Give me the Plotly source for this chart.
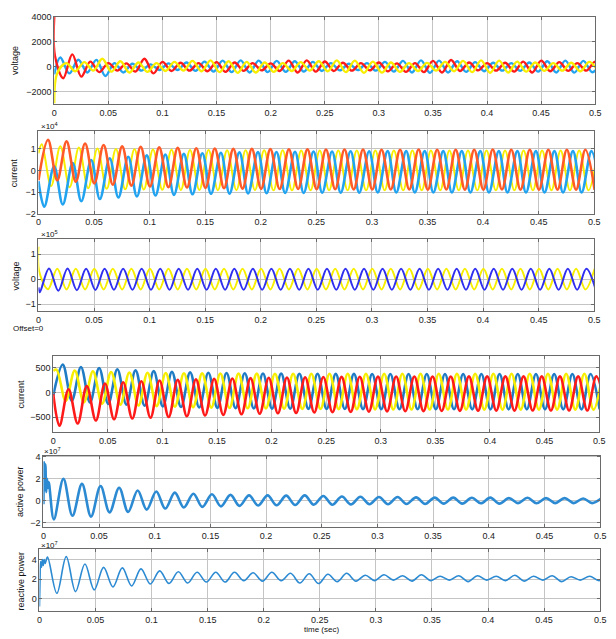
import plotly.graph_objects as go

W, H = 616, 639
P = 0.01667  # period (60 Hz)

x_ticks = [0, 0.05, 0.1, 0.15, 0.2, 0.25, 0.3, 0.35, 0.4, 0.45, 0.5]
x_tick_labels = ["0", "0.05", "0.1", "0.15", "0.2", "0.25", "0.3", "0.35", "0.4", "0.45", "0.5"]

# ---------------- Panel 1 : voltage ----------------
v1_red_pre_t = [0.0, 0.0006]
v1_red_pre_v = [4000, 900]
v1_red_tp0, v1_red_tt0 = 0.0167, 0.0083
v1_red_peaks = [1000, 420, 300, 280, 650, 400, 330, 300, 380, 350, 300, 280, 500, 520, 430,
                330, 300, 350, 280, 300, 480, 550, 350, 300, 330, 420, 500, 380, 300, 420]
v1_red_troughs = [-910, -780, -420, -300, -380, -520, -330, -300, -350, -400, -320, -280, -330, -450, -380,
                  -330, -300, -280, -360, -400, -420, -450, -330, -280, -300, -380, -450, -350, -320, -300, -300]

v1_blue_pre_t = [0.0]
v1_blue_pre_v = [-600]
v1_blue_tp0, v1_blue_tt0 = 0.0056, 0.0139
v1_blue_peaks = [750, 570, 560, 300, 250, 200, 280, 350, 420, 500, 520, 500, 480, 450, 400,
                 300, 250, 300, 400, 480, 520, 500, 450, 380, 330, 300, 350, 450, 500, 480, 420]
v1_blue_troughs = [-520, -450, -730, -450, -300, -250, -250, -320, -380, -420, -450, -420, -400, -380, -330,
                   -280, -260, -300, -380, -450, -480, -450, -400, -350, -300, -320, -380, -450, -460, -430]

v1_yel_pre_t = [0.0]
v1_yel_pre_v = [-2900]
v1_yel_tp0, v1_yel_tt0 = 0.0111, 0.0028
v1_yel_peaks = [300, 380, 650, 450, 350, 300, 400, 480, 520, 450, 400, 350, 300, 380, 450,
                520, 500, 420, 350, 300, 320, 400, 480, 520, 500, 420, 350, 300, 330, 400]
v1_yel_troughs = [-500, -350, -300, -380, -450, -400, -330, -300, -350, -420, -480, -450, -400, -330, -300,
                  -350, -420, -480, -460, -400, -330, -300, -350, -420, -470, -450, -380, -320, -300, -350, -400]

# ---------------- Panel 2 : current (x1e4) ----------------
c2_or_pre_t = [0.0]
c2_or_pre_v = [-0.45]
c2_or_tp0, c2_or_tt0 = 0.0086, 0.0169
c2_or_peaks = [1.42, 1.35, 1.25, 1.18, 1.12, 1.1, 1.07, 1.05, 1.03, 1.02, 1.0, 1.0, 0.99, 0.98, 0.98,
               0.97, 0.97, 0.97, 0.96, 0.96, 0.97, 0.96, 0.96, 0.96, 0.97, 0.96, 0.96, 0.96, 0.96, 0.96]
c2_or_troughs = [-0.45, -0.52, -0.6, -0.66, -0.7, -0.74, -0.77, -0.79, -0.81, -0.82, -0.84, -0.85, -0.86, -0.86, -0.87,
                 -0.87, -0.88, -0.88, -0.88, -0.88, -0.89, -0.88, -0.89, -0.89, -0.88, -0.89, -0.89, -0.89, -0.89, -0.89]

c2_bl_pre_t = [0.0]
c2_bl_pre_v = [-0.5]
c2_bl_tp0, c2_bl_tt0 = 0.0141, 0.0052
c2_bl_peaks = [0.2, 0.35, 0.48, 0.57, 0.64, 0.7, 0.74, 0.77, 0.8, 0.82, 0.84, 0.85, 0.86, 0.87, 0.88,
               0.88, 0.89, 0.89, 0.9, 0.9, 0.9, 0.9, 0.9, 0.9, 0.9, 0.9, 0.9, 0.9, 0.9, 0.9]
c2_bl_troughs = [-1.68, -1.57, -1.42, -1.32, -1.25, -1.2, -1.16, -1.13, -1.1, -1.08, -1.07, -1.06, -1.05, -1.04, -1.04,
                 -1.03, -1.03, -1.03, -1.02, -1.02, -1.02, -1.02, -1.02, -1.02, -1.02, -1.02, -1.02, -1.02, -1.02, -1.02, -1.02]

c2_ye_pre_t = [0.0]
c2_ye_pre_v = [0.8]
c2_ye_tp0, c2_ye_tt0 = 0.0030, 0.0114
c2_ye_peaks = [1.22, 1.12, 1.06, 1.02, 1.0, 0.98, 0.97, 0.96, 0.95, 0.95, 0.94, 0.94, 0.94, 0.94, 0.93,
               0.93, 0.93, 0.93, 0.93, 0.93, 0.93, 0.93, 0.93, 0.93, 0.93, 0.93, 0.93, 0.93, 0.93, 0.93, 0.93]
c2_ye_troughs = [-0.72, -0.78, -0.82, -0.85, -0.87, -0.88, -0.89, -0.9, -0.9, -0.91, -0.91, -0.91, -0.92, -0.92, -0.92,
                 -0.92, -0.92, -0.92, -0.92, -0.92, -0.92, -0.92, -0.92, -0.92, -0.92, -0.92, -0.92, -0.92, -0.92, -0.92]

# ---------------- Panel 3 : voltage (x1e5) ----------------
v3_bl_pre_t = [0.0]
v3_bl_pre_v = [-0.33]
v3_bl_tp0, v3_bl_tt0 = 0.0095, 0.0012
v3_bl_peaks = [0.43, 0.43, 0.42, 0.42, 0.42, 0.42, 0.42, 0.42, 0.42, 0.42, 0.42, 0.42, 0.42, 0.42, 0.42,
               0.42, 0.42, 0.42, 0.42, 0.42, 0.42, 0.42, 0.42, 0.42, 0.42, 0.42, 0.42, 0.42, 0.42, 0.42]
v3_bl_troughs = [-0.52, -0.46, -0.44, -0.43, -0.42, -0.42, -0.42, -0.42, -0.42, -0.42, -0.42, -0.42, -0.42, -0.42, -0.42,
                 -0.42, -0.42, -0.42, -0.42, -0.42, -0.42, -0.42, -0.42, -0.42, -0.42, -0.42, -0.42, -0.42, -0.42, -0.42, -0.42]

v3_ye_pre_t = [0.0, 0.0007]
v3_ye_pre_v = [1.3, 0.3]
v3_ye_tp0, v3_ye_tt0 = 0.0169, 0.0086
v3_ye_peaks = [0.42, 0.42, 0.42, 0.42, 0.42, 0.42, 0.42, 0.42, 0.42, 0.42, 0.42, 0.42, 0.42, 0.42, 0.42,
               0.42, 0.42, 0.42, 0.42, 0.42, 0.42, 0.42, 0.42, 0.42, 0.42, 0.42, 0.42, 0.42, 0.42, 0.42]
v3_ye_troughs = [-0.4, -0.41, -0.41, -0.41, -0.41, -0.41, -0.41, -0.41, -0.41, -0.41, -0.41, -0.41, -0.41, -0.41, -0.41,
                 -0.41, -0.41, -0.41, -0.41, -0.41, -0.41, -0.41, -0.41, -0.41, -0.41, -0.41, -0.41, -0.41, -0.41, -0.41]

# ---------------- Panel 4 : current ----------------
c4_bl_pre_t = [0.0]
c4_bl_pre_v = [-60]
c4_bl_tp0, c4_bl_tt0 = 0.0087, 0.0170
c4_bl_peaks = [560, 513, 493, 468, 445, 428, 414, 404, 396, 390, 385, 381, 378, 376, 375,
               374, 373, 372, 372, 371, 371, 371, 370, 370, 370, 370, 370, 370, 370, 370]
c4_bl_troughs = [-165, -200, -230, -245, -265, -280, -292, -302, -310, -316, -321, -325, -328, -330, -332,
                 -334, -335, -336, -337, -338, -339, -339, -340, -340, -340, -340, -340, -340, -340, -340]

c4_rd_pre_t = [0.0]
c4_rd_pre_v = [-30]
c4_rd_tp0, c4_rd_tt0 = 0.0140, 0.0057
c4_rd_peaks = [65, 130, 180, 205, 225, 240, 252, 262, 272, 280, 288, 295, 300, 305, 310,
               313, 316, 318, 320, 321, 322, 322, 323, 323, 323, 323, 323, 323, 323, 323]
c4_rd_troughs = [-670, -625, -565, -540, -525, -510, -495, -480, -465, -452, -440, -430, -420, -412, -405,
                 -398, -392, -387, -382, -378, -375, -372, -370, -368, -366, -365, -364, -363, -362, -362, -362]

c4_ye_pre_t = [0.0]
c4_ye_pre_v = [430]
c4_ye_tp0, c4_ye_tt0 = 0.0030, 0.0114
c4_ye_peaks = [460, 440, 425, 412, 402, 395, 390, 386, 383, 381, 379, 378, 377, 376, 375,
               375, 375, 375, 375, 375, 375, 375, 375, 375, 375, 375, 375, 375, 375, 375, 375]
c4_ye_troughs = [-170, -200, -225, -245, -262, -275, -287, -297, -305, -312, -318, -323, -327, -331, -334,
                 -336, -338, -340, -341, -342, -343, -344, -344, -345, -345, -345, -345, -345, -345, -345]

# ---------------- Panel 5 : active power (x1e7) ----------------
p5_pre_t = [0.0, 0.0006, 0.0012, 0.0018, 0.0025, 0.0032, 0.0040, 0.0048]
p5_pre_v = [-0.3, 3.5, 1.0, 3.3, 0.8, 2.0, 1.2, 1.7]
p5_tp0, p5_tt0 = 0.0180, 0.0094
p5_peaks = [2.0, 1.55, 1.35, 1.2, 0.95, 0.85, 0.75, 0.65, 0.6, 0.55, 0.5, 0.5, 0.48, 0.5, 0.45,
            0.4, 0.38, 0.35, 0.35, 0.32, 0.3, 0.3, 0.28, 0.3, 0.25, 0.28, 0.25, 0.25, 0.22, 0.25]
p5_troughs = [-1.68, -1.35, -1.43, -1.05, -1.0, -0.8, -0.7, -0.6, -0.55, -0.5, -0.45, -0.42, -0.4, -0.38, -0.35,
              -0.35, -0.32, -0.3, -0.3, -0.28, -0.28, -0.25, -0.25, -0.22, -0.25, -0.2, -0.22, -0.2, -0.2, -0.2]

# ---------------- Panel 6 : reactive power (x1e7) ----------------
q6_pre_t = [0.0, 0.0005, 0.0010, 0.0018, 0.0026, 0.0034, 0.0042, 0.0050]
q6_pre_v = [-0.8, 2.0, 3.8, 3.2, 4.0, 3.4, 4.0, 3.6]
q6_tp0, q6_tt0 = 0.0072, 0.0155
q6_peaks = [4.25, 4.3, 3.55, 3.2, 3.15, 3.05, 2.85, 2.75, 2.7, 2.7, 2.7, 2.65, 2.7, 2.6, 2.55,
            2.5, 2.6, 2.4, 2.45, 2.35, 2.45, 2.3, 2.35, 2.35, 2.3, 2.4, 2.3, 2.35, 2.25, 2.3, 2.3]
q6_troughs = [0.55, 0.72, 0.9, 1.2, 1.3, 1.5, 1.55, 1.6, 1.7, 1.7, 1.85, 1.8, 1.85, 1.6, 1.55,
              1.75, 1.8, 1.85, 1.9, 1.8, 1.85, 1.9, 1.75, 1.9, 1.85, 1.8, 1.9, 1.75, 1.9, 1.85]


def wave(pre_t, pre_v, tp0, peaks, tt0, troughs):
    pts = list(zip(pre_t, pre_v))
    pts += [(tp0 + k * P, v) for k, v in enumerate(peaks)]
    pts += [(tt0 + k * P, v) for k, v in enumerate(troughs)]
    pts.sort()
    return [p[0] for p in pts], [p[1] for p in pts]


fig = go.Figure()


def add(idx, data, color, width):
    xs, ys = wave(*data)
    sfx = "" if idx == 1 else str(idx)
    fig.add_trace(go.Scatter(x=xs, y=ys, mode="lines", xaxis="x" + sfx, yaxis="y" + sfx,
                             line=dict(color=color, width=width, shape="spline", smoothing=1.0),
                             hoverinfo="skip", showlegend=False))


RED = "#ff1a1a"
LBLUE = "#22a3f0"
YEL = "#f7ee00"
ORANGE = "#ff5a28"
DBLUE = "#2f2ff0"
MBLUE = "#1f7cc4"
PBLUE = "#2b8ad2"

add(1, (v1_blue_pre_t, v1_blue_pre_v, v1_blue_tp0, v1_blue_peaks, v1_blue_tt0, v1_blue_troughs), LBLUE, 2.4)
add(1, (v1_red_pre_t, v1_red_pre_v, v1_red_tp0, v1_red_peaks, v1_red_tt0, v1_red_troughs), RED, 2.4)
add(1, (v1_yel_pre_t, v1_yel_pre_v, v1_yel_tp0, v1_yel_peaks, v1_yel_tt0, v1_yel_troughs), YEL, 2.4)

add(2, (c2_ye_pre_t, c2_ye_pre_v, c2_ye_tp0, c2_ye_peaks, c2_ye_tt0, c2_ye_troughs), YEL, 2.0)
add(2, (c2_bl_pre_t, c2_bl_pre_v, c2_bl_tp0, c2_bl_peaks, c2_bl_tt0, c2_bl_troughs), LBLUE, 2.6)
add(2, (c2_or_pre_t, c2_or_pre_v, c2_or_tp0, c2_or_peaks, c2_or_tt0, c2_or_troughs), ORANGE, 2.6)

add(3, (v3_ye_pre_t, v3_ye_pre_v, v3_ye_tp0, v3_ye_peaks, v3_ye_tt0, v3_ye_troughs), YEL, 2.0)
add(3, (v3_bl_pre_t, v3_bl_pre_v, v3_bl_tp0, v3_bl_peaks, v3_bl_tt0, v3_bl_troughs), DBLUE, 2.0)

add(4, (c4_bl_pre_t, c4_bl_pre_v, c4_bl_tp0, c4_bl_peaks, c4_bl_tt0, c4_bl_troughs), MBLUE, 2.6)
add(4, (c4_ye_pre_t, c4_ye_pre_v, c4_ye_tp0, c4_ye_peaks, c4_ye_tt0, c4_ye_troughs), YEL, 2.6)
add(4, (c4_rd_pre_t, c4_rd_pre_v, c4_rd_tp0, c4_rd_peaks, c4_rd_tt0, c4_rd_troughs), RED, 2.6)

add(5, (p5_pre_t, p5_pre_v, p5_tp0, p5_peaks, p5_tt0, p5_troughs), PBLUE, 2.6)
add(6, (q6_pre_t, q6_pre_v, q6_tp0, q6_peaks, q6_tt0, q6_troughs), PBLUE, 1.6)

# panel boxes in pixels: (x0, x1, y0, y1)
boxes = [(52, 601, 12, 101), (36, 600, 128, 212), (36, 600, 238, 311),
         (51, 605, 357, 434), (41, 606, 458, 530), (37, 606, 553, 616)]
yranges = [[-3000, 4000], [-2, 1.83], [-1.28, 1.6], [-800, 725], [-2.35, 4.1], [-1.3, 5.05]]
yticks = [[-2000, 0, 2000, 4000], [-2, -1, 0, 1], [-1, 0, 1], [-500, 0, 500], [-2, 0, 2, 4], [0, 2, 4]]

FONT = "Liberation Sans, Arial, sans-serif"
GRID = "#c4c4c4"
LINE = "#6a6a6a"
layout = dict(width=W, height=H, margin=dict(l=0, r=0, t=0, b=0),
              paper_bgcolor="white", plot_bgcolor="white", hovermode=False,
              font=dict(family=FONT, size=9, color="#222"))
for i, (bx, yr, yt) in enumerate(zip(boxes, yranges, yticks), start=1):
    x0, x1, y0, y1 = bx
    sfx = "" if i == 1 else str(i)
    layout["xaxis" + sfx] = dict(domain=[x0 / W, x1 / W], range=[0, 0.5], anchor="y" + sfx,
                                 tickvals=x_ticks, ticktext=x_tick_labels, showgrid=True, gridcolor=GRID,
                                 gridwidth=1, showline=True, linecolor=LINE, linewidth=1, mirror="ticks",
                                 ticks="inside", ticklen=3, tickcolor=LINE, zeroline=False,
                                 ticklabeloverflow="allow", ticklabelstandoff=0,
                                 tickfont=dict(size=9, color="#222"))
    layout["yaxis" + sfx] = dict(domain=[1 - y1 / H, 1 - y0 / H], range=yr, anchor="x" + sfx,
                                 tickvals=yt, showgrid=True, gridcolor=GRID, gridwidth=1,
                                 showline=True, linecolor=LINE, linewidth=1, mirror="ticks",
                                 ticks="inside", ticklen=3, tickcolor=LINE, zeroline=False,
                                 ticklabeloverflow="allow",
                                 tickfont=dict(size=9, color="#222"))
fig.update_layout(**layout)

ann = []


def txt(x, y, s, size=9, angle=0, xanchor="center"):
    ann.append(dict(x=x / W, y=1 - y / H, xref="paper", yref="paper", text=s, showarrow=False,
                    textangle=angle, xanchor=xanchor, yanchor="middle",
                    font=dict(family=FONT, size=size, color="#111")))


txt(12, 56, "voltage", 9, -90)
txt(12, 170, "current", 9, -90)
txt(13, 275, "voltage", 9, -90)
txt(18, 395, "current", 9, -90)
txt(18, 494, "active power", 9, -90)
txt(18, 585, "reactive power", 9, -90)
txt(37, 123, "×10<sup>4</sup>", 8, 0, "left")
txt(37, 233, "×10<sup>5</sup>", 8, 0, "left")
txt(40, 453, "×10<sup>7</sup>", 8, 0, "left")
txt(37, 549, "×10<sup>7</sup>", 8, 0, "left")
txt(26, 329, "Offset=0", 8)
txt(323, 634.5, "time (sec)", 8)
fig.update_layout(annotations=ann)

fig.write_html("out.html", config={"displayModeBar": False, "staticPlot": True},
               post_script="document.body.style.margin='0';document.body.style.padding='0';"
                           "document.documentElement.style.overflow='hidden';")
